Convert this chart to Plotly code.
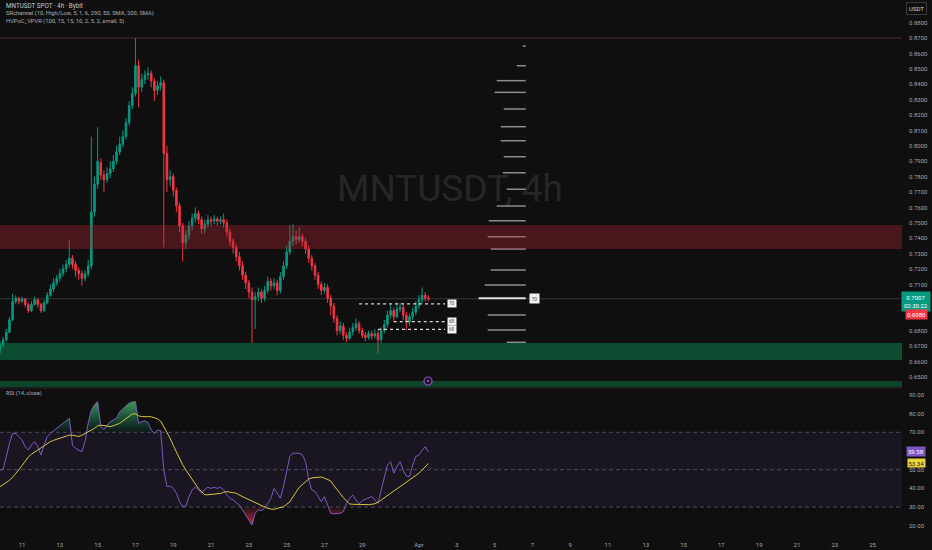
import numpy as np
import pandas as pd
import plotly.graph_objects as go

# ---------------- DATA ----------------
opens = [0.667,0.671,0.674,0.679,0.687,0.699,0.701,0.699,0.7005,0.697,
         0.693,0.697,0.700,0.697,0.693,0.698,0.703,0.707,0.711,0.714,
         0.717,0.720,0.723,0.727,0.723,0.719,0.717,0.714,0.717,0.722,
         0.757,0.775,0.789,0.781,0.778,0.782,0.785,0.790,0.796,0.801,
         0.806,0.815,0.826,0.834,0.852,0.838,0.843,0.846,0.847,0.842,
         0.836,0.839,0.841,0.795,0.778,0.780,0.771,0.761,0.748,0.737,
         0.742,0.748,0.753,0.756,0.752,0.746,0.749,0.752,0.751,0.7525,
         0.751,0.752,0.750,0.744,0.738,0.734,0.728,0.722,0.716,0.711,
         0.705,0.700,0.702,0.705,0.701,0.706,0.712,0.709,0.711,0.706,
         0.715,0.722,0.731,0.738,0.741,0.739,0.741,0.738,0.733,0.727,
         0.722,0.716,0.710,0.706,0.708,0.701,0.696,0.688,0.680,0.683,
         0.677,0.675,0.679,0.682,0.6845,0.680,0.677,0.6755,0.678,0.6765,
         0.678,0.674,0.680,0.684,0.690,0.693,0.689,0.694,0.695,0.690,
         0.6855,0.689,0.692,0.696,0.700,0.703,0.701]
highs = [0.673,0.676,0.681,0.689,0.704,0.703,0.702,0.702,0.701,0.698,
         0.699,0.702,0.701,0.698,0.700,0.705,0.710,0.714,0.716,0.720,
         0.723,0.726,0.739,0.729,0.725,0.721,0.719,0.719,0.726,0.806,
         0.780,0.812,0.792,0.784,0.786,0.790,0.794,0.800,0.806,0.810,
         0.818,0.829,0.838,0.870,0.856,0.847,0.849,0.851,0.849,0.844,
         0.842,0.845,0.843,0.800,0.784,0.782,0.773,0.763,0.750,0.745,
         0.751,0.756,0.760,0.758,0.754,0.752,0.755,0.754,0.755,0.754,
         0.754,0.756,0.752,0.746,0.740,0.736,0.731,0.725,0.718,0.713,
         0.708,0.705,0.708,0.707,0.709,0.715,0.714,0.714,0.713,0.718,
         0.725,0.735,0.7486,0.749,0.745,0.747,0.743,0.740,0.735,0.729,
         0.724,0.718,0.712,0.711,0.710,0.703,0.698,0.690,0.686,0.685,
         0.679,0.682,0.685,0.688,0.686,0.682,0.679,0.680,0.680,0.681,
         0.680,0.682,0.687,0.693,0.697,0.695,0.698,0.698,0.697,0.692,
         0.691,0.695,0.699,0.703,0.708,0.705,0.703]
lows = [0.665,0.669,0.673,0.678,0.686,0.697,0.697,0.698,0.695,0.6914,
        0.692,0.696,0.695,0.6915,0.692,0.697,0.702,0.705,0.709,0.712,
        0.715,0.718,0.721,0.720,0.715,0.713,0.709,0.712,0.715,0.720,
        0.754,0.772,0.778,0.770,0.776,0.779,0.783,0.788,0.794,0.799,
        0.804,0.813,0.824,0.832,0.825,0.835,0.840,0.843,0.838,0.829,
        0.833,0.836,0.734,0.770,0.774,0.767,0.757,0.744,0.725,0.733,
        0.739,0.745,0.750,0.749,0.743,0.743,0.747,0.748,0.749,0.748,
        0.749,0.747,0.741,0.735,0.730,0.725,0.719,0.713,0.707,0.701,
        0.672,0.681,0.699,0.698,0.699,0.704,0.706,0.707,0.703,0.704,
        0.713,0.720,0.729,0.735,0.736,0.737,0.735,0.730,0.724,0.719,
        0.713,0.707,0.703,0.704,0.698,0.690,0.685,0.677,0.678,0.674,
        0.6726,0.674,0.677,0.680,0.678,0.675,0.673,0.674,0.674,0.675,
        0.6655,0.672,0.678,0.682,0.688,0.686,0.688,0.692,0.687,0.680,
        0.683,0.687,0.690,0.694,0.698,0.699,0.699]
closes = [0.671,0.674,0.679,0.687,0.699,0.701,0.699,0.7005,0.697,0.693,
          0.697,0.700,0.697,0.693,0.698,0.703,0.707,0.711,0.714,0.717,
          0.720,0.723,0.727,0.723,0.719,0.717,0.714,0.717,0.722,0.757,
          0.775,0.790,0.781,0.778,0.782,0.785,0.790,0.796,0.801,0.806,
          0.815,0.826,0.834,0.852,0.838,0.843,0.846,0.847,0.842,0.836,
          0.839,0.841,0.795,0.778,0.780,0.771,0.761,0.748,0.737,0.742,
          0.748,0.753,0.756,0.752,0.746,0.749,0.752,0.751,0.7525,0.751,
          0.752,0.750,0.744,0.738,0.734,0.728,0.722,0.716,0.711,0.705,
          0.700,0.702,0.705,0.701,0.706,0.712,0.709,0.711,0.706,0.715,
          0.722,0.731,0.738,0.741,0.739,0.741,0.738,0.733,0.727,0.722,
          0.716,0.710,0.706,0.708,0.701,0.696,0.688,0.680,0.683,0.677,
          0.675,0.679,0.682,0.6845,0.680,0.677,0.6755,0.678,0.6765,0.678,
          0.674,0.680,0.684,0.690,0.693,0.689,0.694,0.695,0.690,0.6855,
          0.689,0.692,0.696,0.700,0.703,0.701,0.7007]

rsi = [49.8,50.2,57.0,64.1,69.4,69.4,67.7,65.9,62.3,60.5,
       63.2,65.0,62.3,57.9,63.2,67.7,69.4,70.9,72.1,73.4,
       74.8,76.2,77.5,63.2,61.4,60.5,59.6,65.0,74.8,81.9,
       84.6,86.4,73.0,71.6,73.9,75.7,76.6,77.5,81.0,82.8,
       84.1,85.5,86.2,86.4,74.8,75.7,76.2,75.2,71.2,69.4,
       71.2,70.9,49.8,40.9,41.3,40.0,37.4,32.9,30.2,30.6,
       35.6,39.2,40.6,39.2,37.4,39.5,40.6,40.0,40.6,40.0,
       40.6,39.2,36.5,34.7,33.8,32.4,31.1,28.5,25.8,23.1,
       20.4,26.7,28.5,28.1,29.4,32.0,34.7,40.0,37.4,34.7,
       40.9,48.1,57.0,58.8,58.8,58.8,57.9,54.3,44.5,39.1,
       38.3,35.6,32.9,35.6,31.1,26.7,26.3,26.3,26.7,27.6,
       32.0,34.7,36.5,33.8,31.7,33.4,34.2,34.7,35.6,33.8,
       32.0,39.1,46.3,52.5,54.3,48.1,51.6,54.3,49.8,46.6,
       46.3,52.5,57.0,57.9,60.2,62.3,59.58]
rsi_ma = [40.9,42.0,43.2,44.3,46.0,47.8,50.0,52.2,54.5,56.8,
          58.3,59.5,60.6,61.7,62.8,64.0,65.0,65.7,66.3,66.8,
          67.4,67.9,68.5,68.4,68.0,67.8,68.4,69.3,70.1,70.9,
          72.1,73.4,73.8,73.6,73.3,73.0,73.5,74.2,74.8,76.0,
          77.3,78.6,79.8,79.9,78.8,78.4,78.4,78.4,78.3,77.8,
          77.2,76.0,73.0,69.8,66.8,63.0,59.4,55.6,52.6,49.9,
          47.2,44.9,42.4,40.0,38.3,36.6,36.6,36.7,36.8,36.9,
          37.3,37.9,38.3,38.0,37.7,37.4,36.4,35.6,34.9,34.2,
          33.3,32.4,31.6,30.6,29.8,29.3,29.0,28.8,29.3,29.8,
          30.2,31.5,32.8,35.5,38.0,40.6,42.0,43.6,45.0,45.6,
          45.9,46.2,46.1,45.5,44.9,44.0,41.5,39.6,37.2,35.0,
          33.1,31.7,31.5,31.4,31.3,31.2,31.1,31.3,31.5,31.8,
          32.6,33.8,35.0,36.2,37.6,38.9,40.1,41.0,42.2,43.4,
          44.5,45.7,46.9,48.1,49.8,51.6,53.34]

# support / resistance zones (price ranges)
resistance_zone = [0.7330, 0.7486]
support_zone = [0.6609, 0.6720]
support_zone2 = [0.6434, 0.6473]
top_level = 0.8700
last_price = 0.7007

# volume profile (price level, relative volume)
profile_prices = [0.8648,0.8520,0.8423,0.8347,0.8239,0.8124,0.8033,0.7929,0.7825,0.7718,
                  0.7609,0.7514,0.7410,0.7330,0.7194,0.7096,0.7010,0.6901,0.6804,0.6724]
profile_volumes = [3,9,29,31,22,25,25,22,23,19,29,37,38,35,35,41,47,38,38,19]
poc_label = "70"

# pivot levels
level_prices = [0.6973, 0.6858, 0.6808]
level_start_bars = [114, 125, 120]
level_labels = ["70", "68", "68"]

tick_dates = ["2025-03-11","2025-03-13","2025-03-15","2025-03-17","2025-03-19","2025-03-21",
              "2025-03-23","2025-03-25","2025-03-27","2025-03-29","2025-04-01","2025-04-03",
              "2025-04-05","2025-04-07","2025-04-09","2025-04-11","2025-04-13","2025-04-15",
              "2025-04-17","2025-04-19","2025-04-21","2025-04-23","2025-04-25"]
tick_labels = ["11","13","15","17","19","21","23","25","27","29","Apr","3",
               "5","7","9","11","13","15","17","19","21","23","25"]
# ticks hidden behind the price / RSI value tags are left out
price_ticks = [0.65, 0.66, 0.67, 0.68, 0.71, 0.72, 0.73, 0.74, 0.75, 0.76, 0.77, 0.78,
               0.79, 0.80, 0.81, 0.82, 0.83, 0.84, 0.85, 0.86, 0.87, 0.88]
rsi_ticks = [20, 30, 40, 50, 70, 80, 90]

# ---------------- LAYOUT HELPERS ----------------
W, H = 932, 550
L, R, T, B = 0, 30, 0, 18
PW, PH = W - L - R, H - T - B
BAR_PX = 3.15
bar_start = pd.Timestamp("2025-03-09 20:00")
BAR = pd.Timedelta(hours=4)
times = pd.date_range(bar_start, periods=len(closes), freq="4h")

def px_time(px):
    return bar_start + BAR * (px / BAR_PX)

def fx(px):
    return (px - L) / PW

def fy(py):
    return (H - B - py) / PH

def price_at(py):
    return 0.87 - (py - 38) / 1540.0

BG = "#0f0f0f"
TXT = "#a3a6af"
FONT = "Roboto"

fig = go.Figure()

# watermark
fig.add_trace(go.Scatter(x=[px_time(450)], y=[price_at(192)], mode="text",
                         text=["MNTUSDT, 4h"], textfont=dict(size=37, color="#262626", family=FONT),
                         xaxis="x", yaxis="y", hoverinfo="skip", showlegend=False))

# candles
fig.add_trace(go.Candlestick(
    x=times, open=opens, high=highs, low=lows, close=closes,
    increasing=dict(line=dict(color="#089981", width=1), fillcolor="#089981"),
    decreasing=dict(line=dict(color="#f23645", width=1), fillcolor="#f23645"),
    whiskerwidth=0, xaxis="x", yaxis="y", hoverinfo="skip", showlegend=False))

# volume profile
prof_right = px_time(525.7)
unit = BAR / BAR_PX
poc_i = int(np.argmax(profile_volumes))
xs, ys = [], []
for i, (p, v) in enumerate(zip(profile_prices, profile_volumes)):
    if i == poc_i:
        continue
    xs += [prof_right - unit * v, prof_right, None]
    ys += [p, p, None]
fig.add_trace(go.Scatter(x=xs, y=ys, mode="lines", line=dict(color="#8d8d8d", width=1.5),
                         xaxis="x", yaxis="y", hoverinfo="skip", showlegend=False))
fig.add_trace(go.Scatter(x=[prof_right - unit * profile_volumes[poc_i], prof_right],
                         y=[profile_prices[poc_i]] * 2, mode="lines",
                         line=dict(color="#e0e0e0", width=2),
                         xaxis="x", yaxis="y", hoverinfo="skip", showlegend=False))

# pivot dotted levels
lvl_end = px_time(445)
for p, sb in zip(level_prices, level_start_bars):
    fig.add_trace(go.Scatter(x=[times[sb], lvl_end],
                             y=[p, p], mode="lines",
                             line=dict(color="#d8d8d8", width=1.2, dash="dot"),
                             xaxis="x", yaxis="y", hoverinfo="skip", showlegend=False))

# RSI fills
rsi_arr = np.array(rsi)
n = len(rsi)
fig.add_trace(go.Scatter(x=times, y=[70] * n, mode="lines", line=dict(width=0),
                         xaxis="x", yaxis="y2", hoverinfo="skip", showlegend=False))
fig.add_trace(go.Scatter(x=times, y=np.maximum(rsi_arr, 70), mode="lines", line=dict(width=0),
                         fill="tonexty",
                         fillgradient=dict(type="vertical", start=70, stop=87,
                                           colorscale=[[0, "rgba(8,153,129,0.05)"], [1, "rgba(76,175,80,0.9)"]]),
                         xaxis="x", yaxis="y2", hoverinfo="skip", showlegend=False))
fig.add_trace(go.Scatter(x=times, y=[30] * n, mode="lines", line=dict(width=0),
                         xaxis="x", yaxis="y2", hoverinfo="skip", showlegend=False))
fig.add_trace(go.Scatter(x=times, y=np.minimum(rsi_arr, 30), mode="lines", line=dict(width=0),
                         fill="tonexty",
                         fillgradient=dict(type="vertical", start=19, stop=30,
                                           colorscale=[[0, "rgba(242,54,69,0.9)"], [1, "rgba(242,54,69,0.05)"]]),
                         xaxis="x", yaxis="y2", hoverinfo="skip", showlegend=False))
fig.add_trace(go.Scatter(x=times, y=rsi, mode="lines", line=dict(color="#7e57c2", width=1),
                         xaxis="x", yaxis="y2", hoverinfo="skip", showlegend=False))
fig.add_trace(go.Scatter(x=times, y=rsi_ma, mode="lines", line=dict(color="#d9c441", width=1),
                         xaxis="x", yaxis="y2", hoverinfo="skip", showlegend=False))

shapes = [
    dict(type="rect", xref="paper", yref="y", x0=0, x1=1, y0=resistance_zone[0], y1=resistance_zone[1],
         fillcolor="rgba(178,40,51,0.36)", line=dict(width=0), layer="above"),
    dict(type="rect", xref="paper", yref="y", x0=0, x1=1, y0=support_zone[0], y1=support_zone[1],
         fillcolor="rgba(8,153,90,0.45)", line=dict(width=0), layer="above"),
    dict(type="rect", xref="paper", yref="y", x0=0, x1=1, y0=support_zone2[0], y1=support_zone2[1],
         fillcolor="rgba(8,153,90,0.38)", line=dict(width=0), layer="above"),
    dict(type="line", xref="paper", yref="y", x0=0, x1=1, y0=top_level, y1=top_level,
         line=dict(color="#55252a", width=1), layer="below"),
    dict(type="line", xref="paper", yref="y", x0=0, x1=1, y0=last_price, y1=last_price,
         line=dict(color="rgba(140,140,140,0.3)", width=1), layer="below"),
    dict(type="line", xref="paper", yref="paper", x0=0, x1=1, y0=fy(388), y1=fy(388),
         line=dict(color="#2a2a2a", width=1)),
    dict(type="rect", xref="paper", yref="y2", x0=0, x1=1, y0=30, y1=70,
         fillcolor="rgba(126,87,194,0.10)", line=dict(width=0), layer="below"),
]
for lv in (70, 50, 30):
    shapes.append(dict(type="line", xref="paper", yref="y2", x0=0, x1=1, y0=lv, y1=lv,
                       line=dict(color="rgba(120,123,134,0.55)", width=1, dash="4px,3px"), layer="below"))
shapes.append(dict(type="circle", xref="paper", yref="paper", x0=fx(424), x1=fx(432),
                   y0=fy(385), y1=fy(377), fillcolor="#1d1026", line=dict(color="#9c4dcc", width=1.2)))
shapes.append(dict(type="circle", xref="paper", yref="paper", x0=fx(427), x1=fx(429),
                   y0=fy(382), y1=fy(380), fillcolor="#b070d8", line=dict(width=0)))

ann = []
def text_ann(x, y, s, size=6, color=TXT, anchor="left", bg=None, border=None, ya="middle", pad=1):
    d = dict(x=fx(x), y=fy(y), xref="paper", yref="paper", text=s, showarrow=False,
             xanchor=anchor, yanchor=ya, font=dict(size=size, color=color, family=FONT),
             borderpad=pad)
    if bg:
        d["bgcolor"] = bg
    if border:
        d["bordercolor"] = border
        d["borderwidth"] = 1
    ann.append(d)

text_ann(4, 6, "MNTUSDT SPOT · 4h · Bybit", size=6.3, color="#c8c8c8")
text_ann(4, 14, "SRchannel (10, High/Low, 5, 1, 6, 290, 50, SMA, 200, SMA)", size=5.8, color="#b0b0b0")
text_ann(4, 22, "HVPoC_VPVR (100, 15, 15, 10, 2, 5, 2, small, 5)", size=5.8, color="#b0b0b0")
text_ann(4, 393, "RSI (14, close)", size=5.6, color="#b0b0b0")
text_ann(916, 8, "USDT", size=6, color="#d0d0d0", anchor="center", border="#3a3a3a", pad=2)
text_ann(916, 301, "0.7007<br>02:30:22", size=6, color="#ffffff", anchor="center", bg="#089981", pad=2)
text_ann(916, 314, "0.6980", size=6, color="#ffffff", anchor="center", bg="#f23645", pad=1)
text_ann(916, 451.5, "59.58", size=6, color="#ffffff", anchor="center", bg="#7e57c2", pad=1)
text_ann(916, 462.5, "53.34", size=6, color="#222222", anchor="center", bg="#e8d33c", pad=0.5)

for p, lab in zip(level_prices, level_labels):
    ann.append(dict(x=px_time(452), y=p, xref="x", yref="y", text=lab, showarrow=False,
                    xanchor="center", yanchor="middle", bgcolor="#f2f2f2",
                    font=dict(size=4.5, color="#444444", family=FONT), borderpad=1))
ann.append(dict(x=px_time(534), y=profile_prices[poc_i], xref="x", yref="y", text=poc_label,
                showarrow=False, xanchor="center", yanchor="middle", bgcolor="#f2f2f2",
                font=dict(size=5, color="#444444", family=FONT), borderpad=1.5))

fig.update_layout(
    width=W, height=H, margin=dict(l=L, r=R, t=T, b=B),
    paper_bgcolor=BG, plot_bgcolor=BG, showlegend=False,
    font=dict(family=FONT, size=6, color=TXT),
    xaxis=dict(type="date", range=[bar_start, px_time(PW)], domain=[0, 1], anchor="y2",
               tickvals=tick_dates, ticktext=tick_labels, showgrid=False, zeroline=False,
               showline=False, ticks="", ticklabelstandoff=8, tickfont=dict(size=6, color=TXT),
               rangeslider=dict(visible=False), fixedrange=True),
    yaxis=dict(domain=[fy(387), 1], range=[price_at(387), price_at(0)], side="right", anchor="x",
               tickvals=price_ticks, tickformat=".4f", showgrid=False, zeroline=False,
               ticks="", ticklabelstandoff=6, tickfont=dict(size=6, color=TXT)),
    yaxis2=dict(domain=[0, fy(389)], range=[16.68, 93.15], side="right", anchor="x",
                tickvals=rsi_ticks, tickformat=".2f", showgrid=False, zeroline=False,
                ticks="", ticklabelstandoff=6, tickfont=dict(size=6, color=TXT)),
    shapes=shapes, annotations=ann,
)

fig.write_html("out.html", config={"displayModeBar": False},
               post_script="document.body.style.margin='0px';document.body.style.overflow='hidden';")
